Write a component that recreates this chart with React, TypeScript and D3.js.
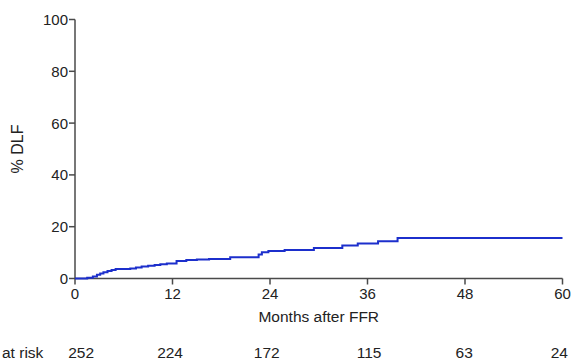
import React from "react";
import * as d3 from "d3";

const months = [0, 1.5, 2.2, 2.7, 3.1, 3.5, 4.0, 4.5, 5.0, 6.8, 7.5, 8.2, 9.0, 9.8, 10.5, 11.3, 12.5, 13.7, 15.0, 16.5, 19.1, 22.6, 23.0, 23.8, 25.8, 29.4, 32.9, 34.8, 37.3, 39.7, 60];
const dlf = [0, 0.3, 0.8, 1.4, 1.9, 2.4, 2.9, 3.3, 3.7, 3.9, 4.2, 4.6, 4.9, 5.2, 5.5, 5.8, 6.8, 7.1, 7.3, 7.5, 8.2, 9.3, 10.1, 10.6, 11.0, 11.8, 12.7, 13.5, 14.4, 15.6, 15.6];
const xTicks = [0, 12, 24, 36, 48, 60];
const yTicks = [0, 20, 40, 60, 80, 100];
const atRisk = [252, 224, 172, 115, 63, 24];
const atRiskMonth = [0.75, 11.7, 23.6, 36.2, 47.9, 59.6];

const W = 572, H = 360;
const FONT = "'Liberation Sans', Arial, sans-serif";

export default function App() {
  const x = d3.scaleLinear().domain([0, 60]).range([75, 562.5]);
  const y = d3.scaleLinear().domain([0, 100]).range([278.5, 19.5]);
  const pts = months.map((m, i) => [m, dlf[i]] as [number, number]);
  const line = d3.line<[number, number]>().x(d => x(d[0])).y(d => y(d[1])).curve(d3.curveStepAfter);
  const axisColor = "#4a4a4a";
  return (
    <svg width={W} height={H} style={{ position: "absolute", left: 0, top: 0, background: "#fff" }}>
      <g fontFamily={FONT} fill="#222">
        <line x1={x(0)} x2={x(0)} y1={y(0)} y2={y(100)} stroke={axisColor} strokeWidth={1.5} />
        {yTicks.map(t => (
          <g key={t}>
            <line x1={x(0) - 6} x2={x(0)} y1={y(t)} y2={y(t)} stroke={axisColor} strokeWidth={1.5} />
            <text x={x(0) - 7} y={y(t)} dy="0.36em" textAnchor="end" fontSize={15}>{t}</text>
          </g>
        ))}
        <line x1={x(0)} x2={x(60)} y1={y(0)} y2={y(0)} stroke={axisColor} strokeWidth={1.5} />
        {xTicks.map(t => (
          <g key={t}>
            <line x1={x(t)} x2={x(t)} y1={y(0)} y2={y(0) + 6} stroke={axisColor} strokeWidth={1.5} />
            <text x={x(t)} y={299} textAnchor="middle" fontSize={15}>{t}</text>
          </g>
        ))}
        <text x={(x(0) + x(60)) / 2} y={321.5} textAnchor="middle" fontSize={15.5}>Months after FFR</text>
        <text transform={`translate(23,${(y(0) + y(100)) / 2}) rotate(-90)`} textAnchor="middle" fontSize={16}>% DLF</text>
        <text x={2} y={357.5} fontSize={15.5}>at risk</text>
        {atRisk.map((v, i) => (
          <text key={i} x={x(atRiskMonth[i])} y={357.5} textAnchor="middle" fontSize={15.5}>{v}</text>
        ))}
        <path d={line(pts) || ""} fill="none" stroke="#1c2fcc" strokeWidth={2} />
      </g>
    </svg>
  );
}
